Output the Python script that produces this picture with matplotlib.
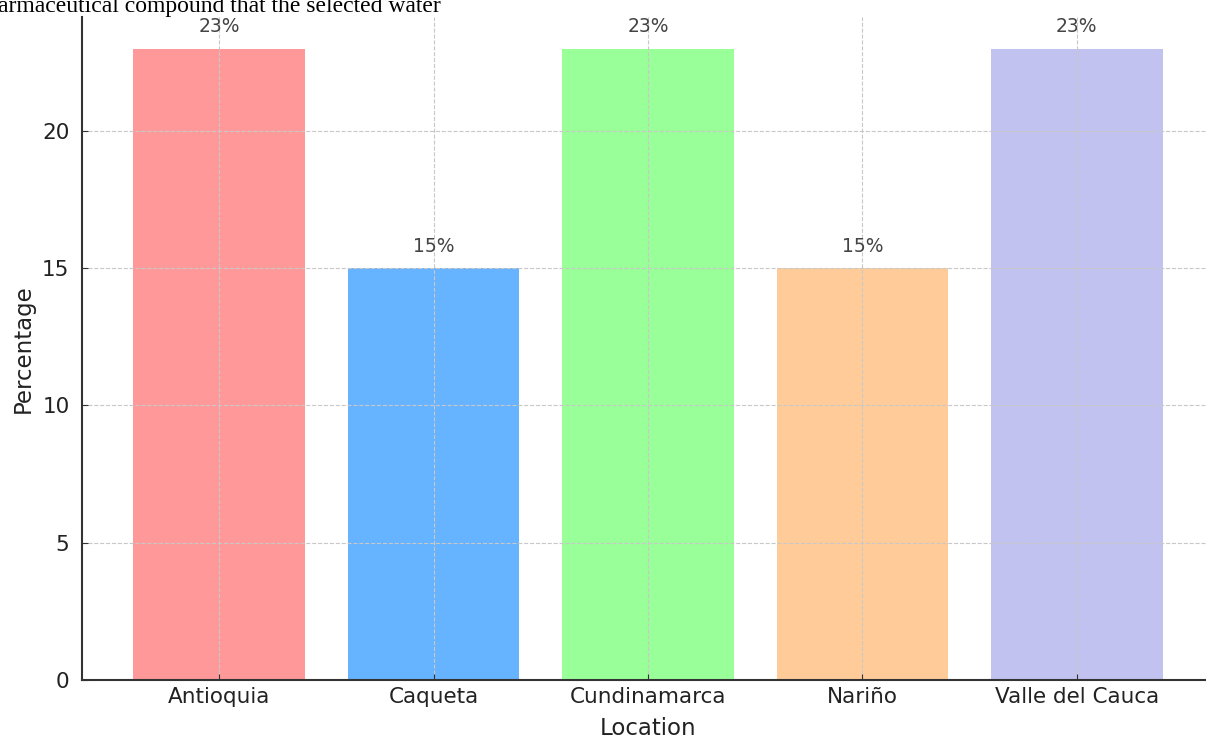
import matplotlib.pyplot as plt

# data
locations = ['Antioquia', 'Caqueta', 'Cundinamarca', 'Nariño', 'Valle del Cauca']
percentages = [23, 15, 23, 15, 23]
colors = ['#ff9999', '#66b3ff', '#99ff99', '#ffcc99', '#c2c2f0']

fig = plt.figure(figsize=(12.06, 7.4), dpi=100)
ax = fig.add_axes([82 / 1206, 1 - 680 / 740, 1132 / 1206, 663 / 740])

bars = ax.bar(locations, percentages, color=colors, width=0.8)
for rect, val in zip(bars, percentages):
    ax.text(rect.get_x() + rect.get_width() / 2, rect.get_height() + 0.45, f'{val}%',
            ha='center', va='bottom', fontsize=13.5, color='#444444')

ax.set_xlabel('Location', fontsize=16.5, color='#222222', labelpad=7)
ax.set_ylabel('Percentage', fontsize=16.5, color='#222222', labelpad=5)
ax.tick_params(axis='both', direction='in', labelsize=15.5, colors='#333333',
               labelcolor='#222222', length=4)
ax.tick_params(axis='x', pad=5)
ax.tick_params(axis='y', pad=9)
ax.grid(True, linestyle='--', color='#c8c8c8', linewidth=0.8)
for s in ['top', 'right']:
    ax.spines[s].set_visible(False)
for s in ['left', 'bottom']:
    ax.spines[s].set_color('#333333')
    ax.spines[s].set_linewidth(1.5)

# leftover caption text from the page the chart was cut from
fig.text(-0.002, 1 - 12 / 740, 'armaceutical compound that the selected water',
         fontsize=17, family='Liberation Serif', ha='left', va='baseline', color='black')

fig.savefig('out.png', dpi=100)
